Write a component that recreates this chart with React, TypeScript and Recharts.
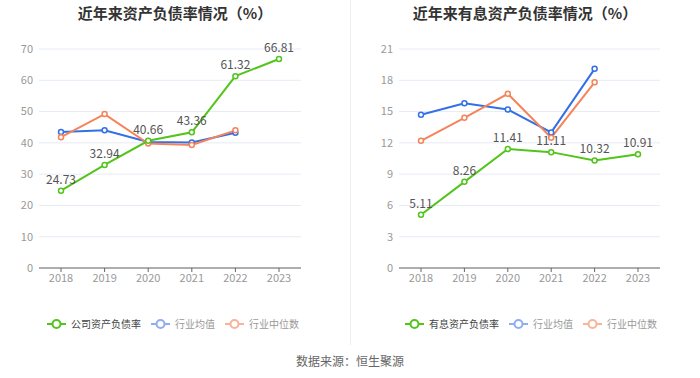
import { CartesianGrid, LabelList, Line, LineChart, XAxis, YAxis } from 'recharts'

const years = ['2018', '2019', '2020', '2021', '2022', '2023']

const debtRatio = [24.73, 32.94, 40.66, 43.36, 61.32, 66.81]
const debtAvg = [43.5, 44.0, 40.3, 40.1, 43.2, null]
const debtMedian = [41.8, 49.2, 39.8, 39.3, 44.0, null]

const interestRatio = [5.11, 8.26, 11.41, 11.11, 10.32, 10.91]
const interestAvg = [14.7, 15.8, 15.2, 13.0, 19.1, null]
const interestMedian = [12.2, 14.4, 16.7, 12.5, 17.8, null]

const debtTicks = [0, 10, 20, 30, 40, 50, 60, 70]
const interestTicks = [0, 3, 6, 9, 12, 15, 18, 21]

const GREEN = '#52c41a'
const BLUE = '#3370e6'
const ORANGE = '#f5845b'
const FONT = '"Noto Sans CJK SC", "Noto Sans", sans-serif'

type PanelProps = {
	left: number
	title: string
	mainName: string
	main: number[]
	avg: (number | null)[]
	median: (number | null)[]
	ticks: number[]
	marginLeft: number
	marginRight: number
	legendLeft: number
}

function LegendItem({ color, label, textColor }: { color: string; label: string; textColor: string }) {
	return (
		<div style={{ display: 'flex', alignItems: 'center', marginRight: 10 }}>
			<svg width={19} height={10}>
				<line x1={0} y1={5} x2={19} y2={5} stroke={color} strokeWidth={2} />
				<circle cx={9.5} cy={5} r={4} fill='#fff' stroke={color} strokeWidth={2} />
			</svg>
			<span style={{ marginLeft: 5, fontSize: 10, color: textColor }}>{label}</span>
		</div>
	)
}

function Panel(p: PanelProps) {
	const data = years.map((y, i) => ({
		year: y,
		main: p.main[i],
		avg: p.avg[i],
		median: p.median[i],
	}))
	const max = p.ticks[p.ticks.length - 1]

	return (
		<div style={{ position: 'absolute', left: p.left, top: 0, width: 350, height: 340 }}>
			<div
				style={{
					position: 'absolute',
					top: 2,
					width: 350,
					textAlign: 'center',
					fontSize: 15,
					fontWeight: 'bold',
					color: '#333',
				}}
			>
				{p.title}
			</div>
			<LineChart
				width={350}
				height={300}
				data={data}
				margin={{ top: 49, right: p.marginRight, bottom: 8, left: p.marginLeft }}
				style={{ fontFamily: FONT }}
			>
				<CartesianGrid vertical={false} stroke='#e6ebf5' />
				<XAxis
					dataKey='year'
					height={24}
					stroke='#666'
					tickSize={4}
					padding={{ left: 22, right: 22 }}
					tick={{ fontSize: 11, fill: '#999' }}
				/>
				<YAxis
					width={30}
					domain={[0, max]}
					ticks={p.ticks}
					axisLine={false}
					tickLine={false}
					tickSize={4}
					tickMargin={2}
					tick={{ fontSize: 11, fill: '#999' }}
				/>
				<Line
					dataKey='avg'
					stroke={BLUE}
					strokeWidth={2}
					dot={{ r: 2.5, fill: '#fff', stroke: BLUE, strokeWidth: 1.5 }}
					isAnimationActive={false}
				/>
				<Line
					dataKey='median'
					stroke={ORANGE}
					strokeWidth={2}
					dot={{ r: 2.5, fill: '#fff', stroke: ORANGE, strokeWidth: 1.5 }}
					isAnimationActive={false}
				/>
				<Line
					dataKey='main'
					stroke={GREEN}
					strokeWidth={2}
					dot={{ r: 2.5, fill: '#fff', stroke: GREEN, strokeWidth: 1.5 }}
					isAnimationActive={false}
				>
					<LabelList dataKey='main' position='top' offset={7} style={{ fontSize: 12, fill: '#555' }} />
				</Line>
			</LineChart>
			<div style={{ position: 'absolute', top: 316, left: p.legendLeft, display: 'flex' }}>
				<LegendItem color={GREEN} label={p.mainName} textColor='#444' />
				<LegendItem color='#8daef0' label='行业均值' textColor='#999' />
				<LegendItem color='#f8b49a' label='行业中位数' textColor='#999' />
			</div>
		</div>
	)
}

export default function App() {
	return (
		<div
			style={{
				position: 'absolute',
				left: 0,
				top: 0,
				width: 700,
				height: 378,
				background: '#fff',
				fontFamily: FONT,
			}}
		>
			<Panel
				left={0}
				title='近年来资产负债率情况（%）'
				mainName='公司资产负债率'
				main={debtRatio}
				avg={debtAvg}
				median={debtMedian}
				ticks={debtTicks}
				marginLeft={9}
				marginRight={49}
				legendLeft={47}
			/>
			<Panel
				left={350}
				title='近年来有息资产负债率情况（%）'
				mainName='有息资产负债率'
				main={interestRatio}
				avg={interestAvg}
				median={interestMedian}
				ticks={interestTicks}
				marginLeft={19}
				marginRight={40}
				legendLeft={55}
			/>
			<div style={{ position: 'absolute', left: 350, top: 0, width: 1, height: 345, background: '#eee' }} />
			<div
				style={{
					position: 'absolute',
					top: 352,
					width: 700,
					textAlign: 'center',
					fontSize: 12,
					color: '#666',
				}}
			>
				数据来源：恒生聚源
			</div>
		</div>
	)
}
